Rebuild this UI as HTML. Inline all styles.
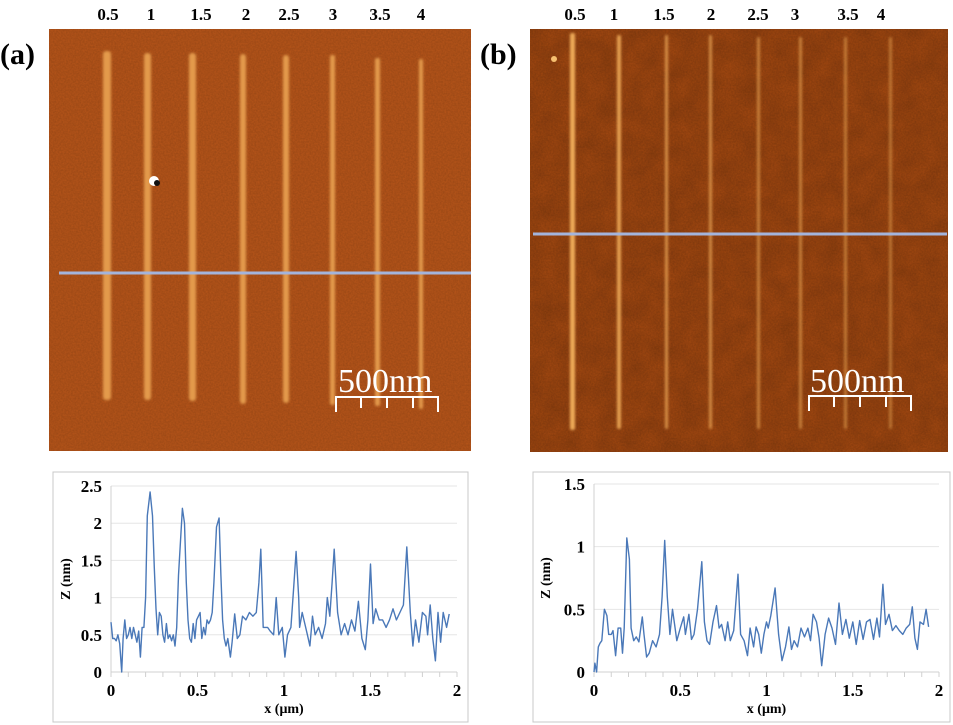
<!DOCTYPE html>
<html><head><meta charset="utf-8">
<style>
body{margin:0;background:#fff;}
svg{display:block;font-family:"Liberation Serif",serif;}
.lbl{font-weight:bold;font-size:17px;text-anchor:middle;}
.pan{font-weight:bold;font-size:30px;}
.tk{font-weight:bold;font-size:17px;}
.ttl{font-weight:bold;font-size:14px;}
</style></head>
<body>
<svg id="fig" width="953" height="725" viewBox="0 0 953 725">
<defs>
<filter id="noise" x="0" y="0" width="100%" height="100%">
<feTurbulence type="fractalNoise" baseFrequency="0.6" numOctaves="2" seed="3" result="t"/>
<feColorMatrix type="matrix" values="0 0 0 0 0  0 0 0 0 0  0 0 0 0 0  0 0 0 0.5 0" in="t"/>
</filter>
<filter id="noise2" x="0" y="0" width="100%" height="100%">
<feTurbulence type="fractalNoise" baseFrequency="0.05" numOctaves="2" seed="7" result="t"/>
<feColorMatrix type="matrix" values="0 0 0 0 0  0 0 0 0 0  0 0 0 0 0  0 0 0 0.45 0" in="t"/>
</filter>
<filter id="soft"><feGaussianBlur stdDeviation="1.2"/></filter>
</defs>

<g>
<rect x="49" y="29" width="422" height="422" fill="#b8561a"/>
<rect x="49" y="29" width="422" height="422" filter="url(#noise)" opacity="0.35"/>
<g fill="#e39a4c" filter="url(#soft)">
<rect x="103" y="51" width="8" height="349" rx="3"/>
<rect x="144" y="53" width="7" height="347" rx="3"/>
<rect x="189" y="53" width="7" height="348" rx="3"/>
<rect x="240" y="54" width="6" height="350" rx="3"/>
<rect x="283" y="55" width="6" height="348" rx="3"/>
<rect x="330" y="55" width="5" height="350" rx="2"/>
<rect x="375" y="58" width="5" height="348" rx="2"/>
<rect x="419" y="59" width="4" height="350" rx="2"/>
</g>
<circle cx="154" cy="181" r="5" fill="#fff"/>
<circle cx="157" cy="183" r="3" fill="#111"/>
<line x1="59" y1="273" x2="471" y2="273" stroke="#a3b4dc" stroke-width="3"/>
<text x="338" y="392" font-size="34" fill="#fff">500nm</text>
<g stroke="#fff" stroke-width="2">
<line x1="335" y1="397" x2="439" y2="397"/>
<line x1="336" y1="397" x2="336" y2="412"/><line x1="361" y1="397" x2="361" y2="408"/>
<line x1="387" y1="397" x2="387" y2="408"/><line x1="413" y1="397" x2="413" y2="408"/>
<line x1="438" y1="397" x2="438" y2="412"/>
</g>
</g>
<text x="0" y="64" class="pan">(a)</text>
<g>
<text x="108" y="20" class="lbl">0.5</text><text x="151" y="20" class="lbl">1</text>
<text x="201" y="20" class="lbl">1.5</text><text x="246" y="20" class="lbl">2</text>
<text x="289" y="20" class="lbl">2.5</text><text x="333" y="20" class="lbl">3</text>
<text x="380" y="20" class="lbl">3.5</text><text x="421" y="20" class="lbl">4</text>
</g>

<g>
<rect x="530" y="29" width="418" height="423" fill="#aa4c12"/>
<rect x="530" y="29" width="418" height="423" filter="url(#noise2)" opacity="0.35"/>
<rect x="530" y="29" width="418" height="423" filter="url(#noise)" opacity="0.4"/>
<g fill="#eeaa58" filter="url(#soft)">
<rect x="570" y="33" width="5" height="397" rx="2"/>
<rect x="617" y="35" width="4" height="394" rx="2" opacity="0.9"/>
<rect x="665" y="35" width="3" height="394" rx="1.5" opacity="0.75"/>
<rect x="709" y="35" width="3" height="394" rx="1.5" opacity="0.7"/>
<rect x="757" y="37" width="3" height="392" rx="1.5" opacity="0.6"/>
<rect x="799" y="37" width="3" height="392" rx="1.5" opacity="0.6"/>
<rect x="844" y="37" width="3" height="392" rx="1.5" opacity="0.55"/>
<rect x="889" y="37" width="3" height="392" rx="1.5" opacity="0.5"/>
</g>
<circle cx="554" cy="59" r="3" fill="#f6c070"/>
<line x1="533" y1="234" x2="947" y2="234" stroke="#a3b4dc" stroke-width="3"/>
<text x="810" y="392" font-size="34" fill="#fff">500nm</text>
<g stroke="#fff" stroke-width="2">
<line x1="808" y1="396" x2="912" y2="396"/>
<line x1="809" y1="396" x2="809" y2="411"/><line x1="834" y1="396" x2="834" y2="407"/>
<line x1="860" y1="396" x2="860" y2="407"/><line x1="886" y1="396" x2="886" y2="407"/>
<line x1="911" y1="396" x2="911" y2="411"/>
</g>
</g>
<text x="480" y="64" class="pan">(b)</text>
<g>
<text x="575" y="20" class="lbl">0.5</text><text x="614" y="20" class="lbl">1</text>
<text x="664" y="20" class="lbl">1.5</text><text x="711" y="20" class="lbl">2</text>
<text x="758" y="20" class="lbl">2.5</text><text x="795" y="20" class="lbl">3</text>
<text x="848" y="20" class="lbl">3.5</text><text x="881" y="20" class="lbl">4</text>
</g>

<g id="chartA"></g>
<g id="chartB"></g>
</svg>
<script>
const xTicks = [0, 0.5, 1, 1.5, 2];
const xTickLabels = ["0", "0.5", "1", "1.5", "2"];
const yTicksA = [0, 0.5, 1, 1.5, 2, 2.5];
const yTickLabelsA = ["0", "0.5", "1", "1.5", "2", "2.5"];
const yTicksB = [0, 0.5, 1, 1.5];
const yTickLabelsB = ["0", "0.5", "1", "1.5"];
const xA = [0,0.01,0.02,0.03,0.04,0.05,0.062,0.07,0.08,0.09,0.1,0.11,0.12,0.13,0.14,0.15,0.16,0.17,0.18,0.19,0.2,0.21,0.226,0.24,0.25,0.26,0.27,0.28,0.29,0.3,0.31,0.32,0.33,0.34,0.35,0.36,0.37,0.38,0.39,0.413,0.425,0.435,0.445,0.455,0.465,0.475,0.485,0.495,0.505,0.515,0.525,0.535,0.545,0.555,0.565,0.575,0.585,0.595,0.61,0.625,0.635,0.645,0.655,0.665,0.675,0.69,0.70,0.715,0.73,0.745,0.76,0.78,0.8,0.82,0.84,0.855,0.866,0.88,0.89,0.905,0.92,0.94,0.955,0.97,0.99,1.005,1.02,1.04,1.055,1.07,1.085,1.09,1.105,1.12,1.135,1.15,1.165,1.18,1.2,1.22,1.24,1.25,1.265,1.278,1.29,1.305,1.31,1.33,1.35,1.37,1.39,1.41,1.43,1.45,1.47,1.485,1.5,1.515,1.53,1.55,1.57,1.59,1.61,1.63,1.65,1.67,1.69,1.71,1.73,1.745,1.76,1.78,1.8,1.82,1.83,1.845,1.86,1.875,1.89,1.905,1.92,1.94,1.955];
const zA = [0.67,0.45,0.45,0.42,0.5,0.38,0.0,0.45,0.7,0.45,0.5,0.6,0.45,0.6,0.5,0.4,0.55,0.2,0.6,0.6,1.0,2.1,2.42,2.1,1.4,0.85,0.5,0.8,0.75,0.5,0.4,0.65,0.45,0.5,0.42,0.5,0.35,0.6,1.3,2.2,2.0,1.2,0.7,0.45,0.4,0.65,0.45,0.7,0.75,0.8,0.45,0.6,0.5,0.7,0.65,0.7,0.8,1.2,1.95,2.07,1.3,0.7,0.45,0.35,0.45,0.2,0.4,0.78,0.45,0.5,0.75,0.7,0.8,0.75,0.8,1.2,1.65,0.6,0.6,0.6,0.55,0.5,1.0,0.5,0.6,0.2,0.5,0.6,1.1,1.62,1.0,0.6,0.8,0.65,0.5,0.35,0.75,0.5,0.6,0.45,0.65,1.0,0.75,1.2,1.65,1.0,0.8,0.5,0.65,0.5,0.7,0.55,0.95,0.45,0.3,0.7,1.45,0.65,0.85,0.7,0.7,0.6,0.7,0.85,0.7,0.8,0.9,1.68,0.8,0.35,0.7,0.4,0.8,0.75,0.5,0.9,0.45,0.15,0.8,0.4,0.8,0.6,0.78];
const xB = [0,0.005,0.015,0.025,0.035,0.045,0.06,0.075,0.085,0.1,0.11,0.125,0.14,0.155,0.165,0.175,0.19,0.205,0.215,0.23,0.245,0.26,0.28,0.29,0.305,0.32,0.34,0.36,0.38,0.395,0.41,0.425,0.44,0.455,0.47,0.48,0.5,0.52,0.53,0.55,0.565,0.58,0.6,0.625,0.64,0.655,0.67,0.69,0.71,0.725,0.74,0.76,0.775,0.79,0.81,0.835,0.85,0.87,0.89,0.905,0.925,0.94,0.955,0.97,0.985,1.0,1.01,1.025,1.05,1.07,1.09,1.11,1.13,1.145,1.16,1.18,1.2,1.22,1.24,1.255,1.27,1.29,1.305,1.32,1.34,1.36,1.38,1.4,1.42,1.44,1.46,1.48,1.5,1.52,1.54,1.56,1.58,1.6,1.62,1.64,1.655,1.675,1.69,1.71,1.73,1.75,1.77,1.79,1.81,1.83,1.845,1.86,1.875,1.89,1.91,1.925,1.94];
const zB = [0.0,0.07,0.0,0.2,0.23,0.25,0.5,0.45,0.3,0.3,0.33,0.13,0.35,0.35,0.15,0.35,1.07,0.9,0.35,0.25,0.28,0.24,0.44,0.3,0.12,0.15,0.25,0.2,0.3,0.6,1.05,0.6,0.3,0.5,0.35,0.25,0.35,0.44,0.3,0.46,0.26,0.3,0.5,0.88,0.4,0.25,0.22,0.4,0.53,0.35,0.38,0.25,0.4,0.25,0.33,0.78,0.3,0.25,0.13,0.35,0.2,0.36,0.3,0.15,0.3,0.4,0.35,0.45,0.67,0.3,0.09,0.2,0.36,0.18,0.25,0.2,0.35,0.28,0.35,0.25,0.46,0.4,0.27,0.05,0.3,0.43,0.35,0.22,0.55,0.3,0.42,0.27,0.4,0.22,0.41,0.26,0.4,0.42,0.26,0.43,0.28,0.7,0.38,0.46,0.33,0.37,0.33,0.3,0.35,0.38,0.52,0.27,0.18,0.4,0.38,0.5,0.36];

const NS = "http://www.w3.org/2000/svg";
function mk(tag, attrs, parent){const e=document.createElementNS(NS,tag);for(const k in attrs)e.setAttribute(k,attrs[k]);parent.appendChild(e);return e;}

function drawChart(g, box, plot, xs, zs, yTicks, yLabels, yMax){
  const sx = v => plot.x0 + (v/2)*(plot.x1-plot.x0);
  const sy = v => plot.y0 - (v/yMax)*(plot.y0-plot.y1);
  const frame = mk('rect',{x:box.x,y:box.y,width:box.w,height:box.h,fill:'#fff',stroke:'#c8c8c8','stroke-width':1},g);
  
  
  yTicks.forEach((t,i)=>{
    if(t>0){const gl=mk('line',{x1:plot.x0,x2:plot.x1,y1:sy(t),y2:sy(t),stroke:'#e6e6e6','stroke-width':1},g);
      
      }
    const tl=mk('text',{x:plot.x0-9,y:sy(t)+6,'text-anchor':'end',class:'tk'},g);
    tl.textContent=yLabels[i];
    
    
  });
  const ax=mk('line',{x1:plot.x0,x2:plot.x0,y1:plot.y0,y2:plot.y1,stroke:'#d0d0d0','stroke-width':1},g);
  
  
  const xa=mk('line',{x1:plot.x0,x2:plot.x1,y1:plot.y0,y2:plot.y0,stroke:'#d0d0d0','stroke-width':1},g);
  
  
  for(let k=0;k<=20;k++){mk('line',{x1:sx(k*0.1),x2:sx(k*0.1),y1:plot.y0,y2:plot.y0+5,stroke:'#d0d0d0'},g);}
  xTicks.forEach((t,i)=>{
    const tl=mk('text',{x:sx(t),y:plot.y0+24,'text-anchor':'middle',class:'tk'},g);
    tl.textContent=xTickLabels[i];
    
    
  });
  const xt=mk('text',{x:(plot.x0+plot.x1)/2,y:plot.y0+41,'text-anchor':'middle',class:'ttl'},g);
  xt.textContent='x (\u03bcm)';
  
  
  const cy=(plot.y0+plot.y1)/2;
  const yt=mk('text',{x:box.x+17,y:cy,'text-anchor':'middle',class:'ttl',transform:`rotate(-90 ${box.x+17} ${cy})`},g);
  yt.textContent='Z (nm)';
  
  
  const d=xs.map((x,i)=>(i?'L':'M')+sx(x).toFixed(1)+' '+sy(zs[i]).toFixed(1)).join(' ');
  const p=mk('path',{d:d,fill:'none',stroke:'#4a78b8','stroke-width':1.4,'stroke-linejoin':'round'},g);
  
  
}
drawChart(document.getElementById('chartA'),{x:53,y:472,w:415,h:250},{x0:111,x1:457,y0:672,y1:486},xA,zA,yTicksA,yTickLabelsA,2.5);
drawChart(document.getElementById('chartB'),{x:533,y:472,w:417,h:250},{x0:594,x1:939,y0:672,y1:484},xB,zB,yTicksB,yTickLabelsB,1.5);
</script>
</body></html>
